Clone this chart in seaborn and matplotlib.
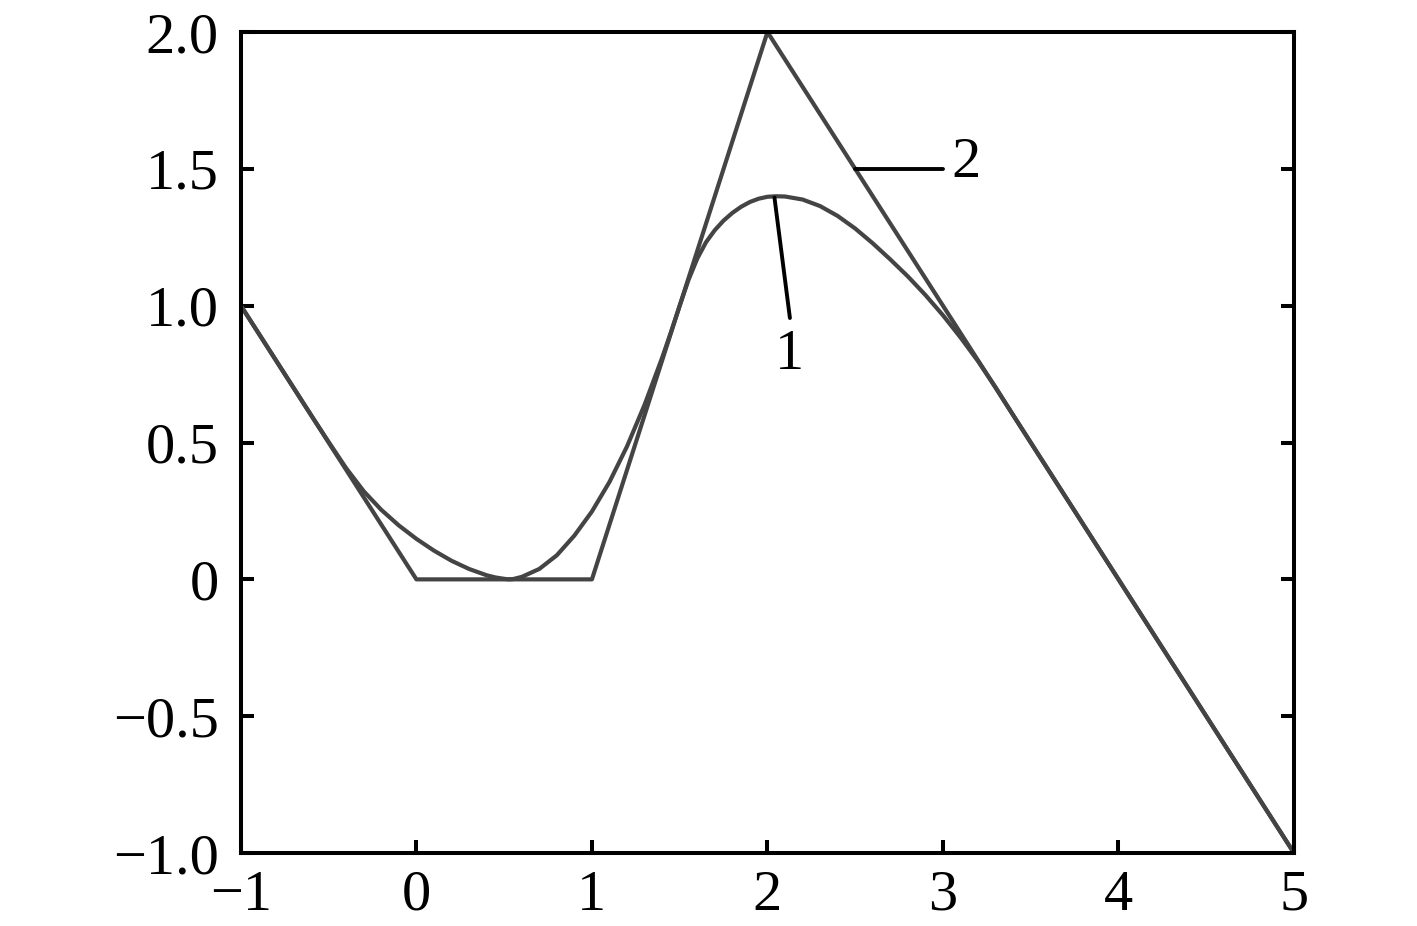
import numpy as np
import pandas as pd
import seaborn as sns
import matplotlib.pyplot as plt
from matplotlib.ticker import FixedLocator, FixedFormatter


# control polygon (curve 2)
poly_x = [-1, 0, 1, 2, 5]
poly_y = [1, 0, 0, 2, -1]

# smooth curve (curve 1)
curve_x = [-1.0, -0.8, -0.6, -0.5, -0.4, -0.3, -0.2, -0.1, 0.0, 0.1, 0.2, 0.3,
           0.4, 0.45, 0.5, 0.525, 0.55, 0.6, 0.7, 0.8, 0.9, 1.0, 1.1, 1.2,
           1.3, 1.4, 1.45, 1.5, 1.55, 1.6, 1.65, 1.7, 1.75, 1.8, 1.85, 1.9,
           1.95, 2.0, 2.05, 2.1, 2.2, 2.3, 2.4, 2.5, 2.6, 2.7, 2.8, 2.9, 3.0,
           3.1, 3.2, 3.3, 3.4, 3.6, 4.0, 5.0]
curve_y = [1.0, 0.8, 0.6, 0.502, 0.406, 0.322, 0.254, 0.197, 0.148, 0.105,
           0.068, 0.038, 0.015, 0.007, 0.002, 0.0, 0.001, 0.009, 0.038, 0.088,
           0.16, 0.248, 0.356, 0.486, 0.638, 0.81, 0.903, 1.0, 1.094, 1.172,
           1.232, 1.276, 1.311, 1.339, 1.3615, 1.379, 1.391, 1.398, 1.40,
           1.399, 1.388, 1.364, 1.328, 1.282, 1.228, 1.169, 1.107, 1.039,
           0.965, 0.884, 0.797, 0.7015, 0.6, 0.4, 0.0, -1.0]

x_ticks = [-1, 0, 1, 2, 3, 4, 5]
x_labels = ['\u22121', '0', '1', '2', '3', '4', '5']
y_ticks = [-1.0, -0.5, 0, 0.5, 1.0, 1.5, 2.0]
y_labels = ['\u22121.0', '\u22120.5', '0', '0.5', '1.0', '1.5', '2.0']

sns.set_style('ticks')
plt.rcParams['font.family'] = ['Liberation Serif', 'DejaVu Serif']

fig = plt.figure(figsize=(14.17, 9.26), dpi=100)
ax = fig.add_axes([0.170, 0.0788, 0.9132 - 0.170, 0.9654 - 0.0788])

line_col = '#444444'
poly = pd.DataFrame({'x': poly_x, 'y': poly_y})
curve = pd.DataFrame({'x': curve_x, 'y': curve_y})

sns.lineplot(data=poly, x='x', y='y', sort=False, estimator=None,
             color=line_col, linewidth=3.0, ax=ax)
sns.lineplot(data=curve, x='x', y='y', sort=False, estimator=None,
             color=line_col, linewidth=3.0, ax=ax)

# leader lines and labels
ax.plot([2.04, 2.128], [1.395, 0.955], color='black', lw=2.8)
ax.text(2.123, 0.82, '1', fontsize=42, ha='center', va='center', color='black')
ax.plot([2.5, 3.0], [1.5, 1.5], color='black', lw=2.8)
ax.text(3.13, 1.52, '2', fontsize=42, ha='center', va='center', color='black')

ax.set_xlim(-1, 5)
ax.set_ylim(-1, 2)
ax.xaxis.set_major_locator(FixedLocator(x_ticks))
ax.xaxis.set_major_formatter(FixedFormatter(x_labels))
ax.yaxis.set_major_locator(FixedLocator(y_ticks))
ax.yaxis.set_major_formatter(FixedFormatter(y_labels))
ax.set_xlabel('')
ax.set_ylabel('')

for s in ax.spines.values():
    s.set_visible(True)
    s.set_linewidth(2.9)
    s.set_color('black')

ax.tick_params(axis='both', direction='in', length=9.5, width=2.9,
               labelsize=42, colors='black')
ax.tick_params(axis='y', right=True, pad=16)
ax.tick_params(axis='x', pad=12)

fig.savefig('out.png', dpi=100)
